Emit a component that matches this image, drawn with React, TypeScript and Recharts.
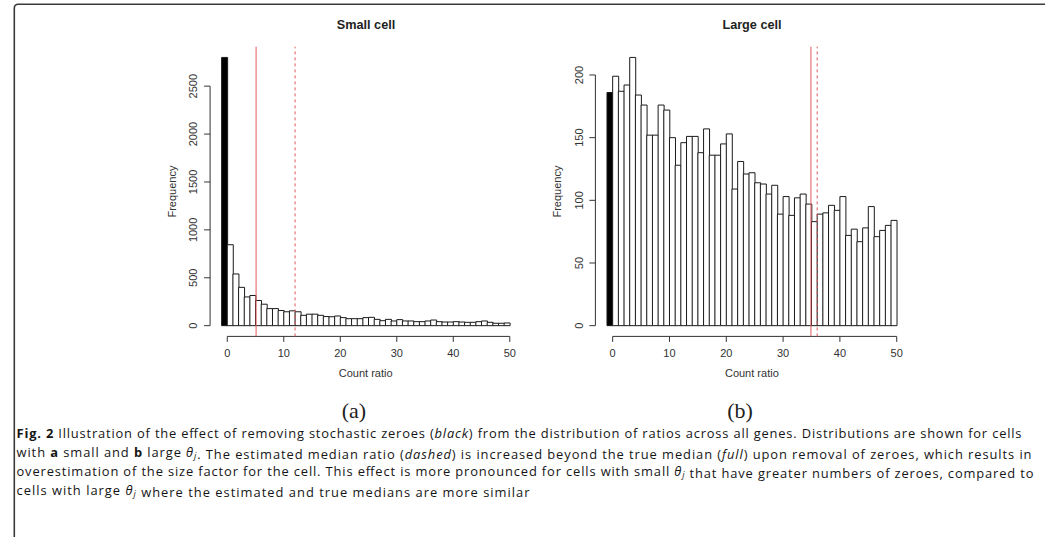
import React from 'react';
import { ComposedChart, Bar, XAxis, YAxis, ReferenceLine, Cell } from 'recharts';

// ---------- data ----------
// histogram bins (left edge of each unit-wide bin); bin -1 holds the stochastic zeroes
const BIN_STARTS = [
  -1, 0, 1, 2, 3, 4, 5, 6, 7, 8, 9, 10, 11, 12, 13, 14, 15, 16, 17, 18, 19, 20, 21, 22, 23, 24,
  25, 26, 27, 28, 29, 30, 31, 32, 33, 34, 35, 36, 37, 38, 39, 40, 41, 42, 43, 44, 45, 46, 47, 48, 49,
];
const X_TICKS = [0, 10, 20, 30, 40, 50];

const SMALL_ZEROES = 2800;
const SMALL_COUNTS = [
  845, 540, 400, 300, 315, 263, 224, 178, 178, 158,
  145, 155, 145, 108, 120, 120, 108, 95, 93, 101,
  84, 73, 73, 73, 84, 87, 66, 52, 66, 49,
  63, 49, 49, 42, 42, 49, 59, 42, 38, 38,
  42, 38, 35, 35, 42, 49, 35, 25, 25, 28,
];
const SMALL_Y_TICKS = [0, 500, 1000, 1500, 2000, 2500];
const SMALL_MEDIAN_TRUE = 5.1;
const SMALL_MEDIAN_EST = 12.0;

const LARGE_ZEROES = 186;
const LARGE_COUNTS = [
  199, 187, 192, 214, 184, 176, 152, 152, 176, 172,
  150, 128, 146, 151, 151, 138, 157, 136, 136, 145,
  153, 109, 131, 121, 122, 114, 113, 105, 112, 89,
  103, 88, 102, 105, 97, 83, 89, 90, 96, 92,
  103, 72, 77, 67, 78, 95, 71, 76, 80, 84,
];
const LARGE_Y_TICKS = [0, 50, 100, 150, 200];
const LARGE_MEDIAN_TRUE = 34.9;
const LARGE_MEDIAN_EST = 36.0;

// ---------- style ----------
const SANS = '"Liberation Sans", Arial, Helvetica, sans-serif';
const AXIS_COLOR = '#333';
const RED = '#e05a5a';

const CHART_H = 400;
const MARGIN_TOP = 46.7;
const X_AXIS_H = 30;
const PLOT_BOTTOM = 336.4;
const MARGIN_BOTTOM = CHART_H - PLOT_BOTTOM - X_AXIS_H;

const makeXTick = () => (props: any) => {
  const { x, payload } = props;
  return (
    <text x={x} y={PLOT_BOTTOM + 17} textAnchor="middle" dominantBaseline="central" fontSize={11} fill={AXIS_COLOR} fontFamily={SANS}>
      {payload.value}
    </text>
  );
};

const makeYTick = (plotLeft: number) => (props: any) => {
  const { y, payload } = props;
  const cx = plotLeft - 16.8;
  return (
    <text x={cx} y={y} transform={`rotate(-90 ${cx} ${y})`} textAnchor="middle" dominantBaseline="central" fontSize={11} fill={AXIS_COLOR} fontFamily={SANS}>
      {payload.value}
    </text>
  );
};

type PanelProps = {
  zeroes: number;
  counts: number[];
  yTicks: number[];
  medianTrue: number;
  medianEst: number;
  left: number;
  width: number;
  yAxisWidth: number;
  marginRight: number;
};

function Panel({ zeroes, counts, yTicks, medianTrue, medianEst, left, width, yAxisWidth, marginRight }: PanelProps) {
  const data = BIN_STARTS.map((b, i) => ({ bin: b, count: i === 0 ? zeroes : counts[i - 1] }));
  const nBins = BIN_STARTS.length;
  const xLo = BIN_STARTS[0];
  const xHi = BIN_STARTS[nBins - 1] + 1;
  const ext = 0.04 * (xHi - xLo);
  const xDomain = [xLo - ext, xHi + ext];
  const yMax = Math.max(zeroes, ...counts);
  const yDomain = [-0.04 * yMax, 1.04 * yMax];
  const plotW = width - yAxisWidth - marginRight;
  const pad = (plotW * ext) / (xDomain[1] - xDomain[0]);
  const labelDx = -38 - yAxisWidth / 2;

  return (
    <div style={{ position: 'absolute', left, top: 0, width, height: CHART_H }}>
      <ComposedChart
        width={width}
        height={CHART_H}
        data={data}
        margin={{ top: MARGIN_TOP, right: marginRight, bottom: MARGIN_BOTTOM, left: 0 }}
        barCategoryGap={0}
        barGap={0}
      >
        <XAxis xAxisId="cat" dataKey="bin" type="category" hide height={0} padding={{ left: pad, right: pad }} />
        <XAxis
          xAxisId="num"
          dataKey="bin"
          type="number"
          domain={xDomain}
          allowDataOverflow
          ticks={X_TICKS}
          axisLine={false}
          tickSize={5.5}
          tickMargin={0}
          tickLine={{ stroke: AXIS_COLOR }}
          tick={makeXTick()}
          height={X_AXIS_H}
          label={{ value: 'Count ratio', position: 'bottom', offset: 3, fontSize: 11, fill: AXIS_COLOR, fontFamily: SANS }}
        />
        <YAxis
          type="number"
          domain={yDomain}
          allowDataOverflow
          ticks={yTicks}
          axisLine={false}
          tickSize={6}
          tickMargin={0}
          tickLine={{ stroke: AXIS_COLOR }}
          tick={makeYTick(yAxisWidth)}
          width={yAxisWidth}
          label={{ value: 'Frequency', angle: -90, position: 'center', dx: labelDx + yAxisWidth, fontSize: 11, fill: AXIS_COLOR, fontFamily: SANS }}
        />
        <Bar dataKey="count" xAxisId="cat" isAnimationActive={false} stroke="#1a1a1a" strokeWidth={1}>
          {data.map((d, i) => (
            <Cell key={i} fill={i === 0 ? '#000' : '#fff'} />
          ))}
        </Bar>
        <ReferenceLine
          xAxisId="num"
          segment={[{ x: X_TICKS[0], y: yDomain[0] }, { x: X_TICKS[X_TICKS.length - 1], y: yDomain[0] }]}
          stroke={AXIS_COLOR}
          strokeWidth={1}
          ifOverflow="visible"
        />
        <ReferenceLine
          xAxisId="num"
          segment={[{ x: xDomain[0], y: yTicks[0] }, { x: xDomain[0], y: yTicks[yTicks.length - 1] }]}
          stroke={AXIS_COLOR}
          strokeWidth={1}
          ifOverflow="visible"
        />
        <ReferenceLine xAxisId="num" x={medianTrue} stroke={RED} strokeWidth={1} ifOverflow="visible" />
        <ReferenceLine xAxisId="num" x={medianEst} stroke={RED} strokeWidth={1} strokeDasharray="3 3" ifOverflow="visible" />
      </ComposedChart>
    </div>
  );
}

const CAP_FONT = '"Open Sans", "Noto Sans", sans-serif';
const CAP_SIZE = 12.9;

const Theta = () => (
  <>
    <tspan fontStyle="italic">θ</tspan>
    <tspan fontStyle="italic" fontSize={9} dy={2}>j</tspan>
    <tspan dy={-2}>{''}</tspan>
  </>
);

export default function App() {
  return (
    <div style={{ position: 'absolute', left: 0, top: 0, width: 1045, height: 537, background: '#fff', overflow: 'hidden' }}>
      <svg width={1045} height={537} style={{ position: 'absolute', left: 0, top: 0 }}>
        <path d="M14.3 537 L14.3 8.3 Q14.3 4.3 18.3 4.3 L1045 4.3" fill="none" stroke="#3a3a3a" strokeWidth={1.6} />
        <text x={366} y={29} textAnchor="middle" fontSize={12.7} fontWeight="bold" fill="#222" fontFamily={SANS}>Small cell</text>
        <text x={752} y={29} textAnchor="middle" fontSize={12.7} fontWeight="bold" fill="#222" fontFamily={SANS}>Large cell</text>
        <text x={354} y={418} textAnchor="middle" fontSize={22} fill="#222" fontFamily={'"Liberation Serif", "Times New Roman", serif'}>(a)</text>
        <text x={740} y={418} textAnchor="middle" fontSize={22} fill="#222" fontFamily={'"Liberation Serif", "Times New Roman", serif'}>(b)</text>
        <g fontFamily={CAP_FONT} fontSize={CAP_SIZE} fill="#151515">
          <text x={16.5} y={438} textLength={1005} lengthAdjust="spacing">
            <tspan fontWeight="bold">Fig. 2</tspan>
            {' Illustration of the effect of removing stochastic zeroes ('}
            <tspan fontStyle="italic">black</tspan>
            {') from the distribution of ratios across all genes. Distributions are shown for cells'}
          </text>
          <text x={16.5} y={457} textLength={1015} lengthAdjust="spacing">
            {'with '}
            <tspan fontWeight="bold">a</tspan>
            {' small and '}
            <tspan fontWeight="bold">b</tspan>
            {' large '}
            <Theta />
            {'. The estimated median ratio ('}
            <tspan fontStyle="italic">dashed</tspan>
            {') is increased beyond the true median ('}
            <tspan fontStyle="italic">full</tspan>
            {') upon removal of zeroes, which results in'}
          </text>
          <text x={16.5} y={476} textLength={1017} lengthAdjust="spacing">
            {'overestimation of the size factor for the cell. This effect is more pronounced for cells with small '}
            <Theta />
            {' that have greater numbers of zeroes, compared to'}
          </text>
          <text x={16.5} y={495} textLength={513} lengthAdjust="spacing">
            {'cells with large '}
            <Theta />
            {' where the estimated and true medians are more similar'}
          </text>
        </g>
      </svg>
      <Panel
        zeroes={SMALL_ZEROES}
        counts={SMALL_COUNTS}
        yTicks={SMALL_Y_TICKS}
        medianTrue={SMALL_MEDIAN_TRUE}
        medianEst={SMALL_MEDIAN_EST}
        left={150}
        width={380}
        yAxisWidth={60.1}
        marginRight={8.7}
      />
      <Panel
        zeroes={LARGE_ZEROES}
        counts={LARGE_COUNTS}
        yTicks={LARGE_Y_TICKS}
        medianTrue={LARGE_MEDIAN_TRUE}
        medianEst={LARGE_MEDIAN_EST}
        left={530}
        width={390}
        yAxisWidth={65.4}
        marginRight={11.7}
      />
    </div>
  );
}
